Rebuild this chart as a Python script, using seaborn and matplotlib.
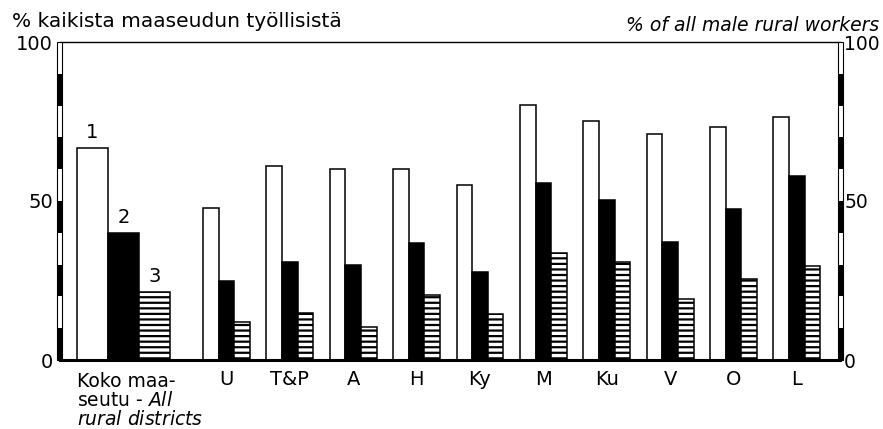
import pandas as pd
import matplotlib
matplotlib.use("Agg")
import matplotlib.pyplot as plt
from matplotlib.patches import Rectangle
import matplotlib.transforms as mtransforms
import seaborn as sns

# data (% of all male rural workers)
districts = ["U", "T&P", "A", "H", "Ky", "M", "Ku", "V", "O", "L"]
series = ["1", "2", "3"]
s1 = [47.9, 61.0, 60.2, 60.0, 54.9, 80.2, 75.1, 71.2, 73.3, 76.4]
s2 = [25.0, 30.8, 30.0, 36.8, 27.8, 55.7, 50.4, 37.0, 47.5, 57.9]
s3 = [11.8, 14.8, 10.5, 20.4, 14.6, 33.6, 30.8, 19.3, 25.5, 29.6]
all_rural = [66.7, 40.0, 21.5]

# x positions: districts are evenly spaced, the whole-country group sits further left
district_pos = list(range(1, len(districts) + 1))
all_pos = -0.625

rows = []
for name, pos, a, b, c in zip(districts, district_pos, s1, s2, s3):
    for s, v in zip(series, [a, b, c]):
        rows.append({"region": name, "pos": pos, "series": s, "value": v})
df = pd.DataFrame(rows)
df_all = pd.DataFrame({"region": "all", "pos": all_pos, "series": series, "value": all_rural})

sns.set_style("white")
plt.rcParams["font.family"] = ["DejaVu Sans"]
plt.rcParams["mathtext.fontset"] = "dejavusans"
plt.rcParams["hatch.linewidth"] = 1.6
plt.rcParams["text.color"] = "black"
plt.rcParams["xtick.color"] = "black"
plt.rcParams["ytick.color"] = "black"

palette = {"1": "white", "2": "black", "3": "white"}

fig = plt.figure(figsize=(8.83, 4.29), dpi=100)
ax = fig.add_axes([60 / 883, 1 - 360 / 429, 780 / 883, 318 / 429])

sns.barplot(data=df, x="pos", y="value", hue="series", hue_order=series, palette=palette,
            native_scale=True, orient="x", width=0.74, errorbar=None, saturation=1,
            edgecolor="black", linewidth=1.1, legend=False, ax=ax)
sns.barplot(data=df_all, x="pos", y="value", hue="series", hue_order=series, palette=palette,
            native_scale=True, orient="x", width=1.47, errorbar=None, saturation=1,
            edgecolor="black", linewidth=1.1, legend=False, ax=ax)

# third series is hatched with horizontal lines
for i, cont in enumerate(ax.containers):
    if i % 3 == 2:
        for p in cont:
            p.set_hatch("---")

# series numbers above the whole-country bars
for cont, s in zip(ax.containers[3:], series):
    p = cont[0]
    ax.annotate(s, (p.get_x() + p.get_width() / 2, p.get_height()), xytext=(0, 4),
                textcoords="offset points", ha="center", va="bottom", fontsize=14)

ax.set_xlim(-1.626, 10.68)
ax.set_ylim(0, 100)
ax.set_xlabel("")
ax.set_ylabel("")

ax.set_xticks(district_pos)
ax.set_xticklabels(districts, fontsize=14)
ax.set_yticks([0, 50, 100])
ax.set_yticklabels(["0", "50", "100"], fontsize=14)
ax.tick_params(axis="both", length=0)
ax.tick_params(axis="x", pad=7)
ax.tick_params(axis="y", pad=5)

ax2 = ax.twinx()
ax2.set_ylim(0, 100)
ax2.set_yticks([0, 50, 100])
ax2.set_yticklabels(["0", "50", "100"], fontsize=13.5)
ax2.tick_params(axis="y", length=0, pad=3)
for sp in ax2.spines.values():
    sp.set_visible(False)

for side in ["left", "right"]:
    ax.spines[side].set_visible(False)
ax.spines["top"].set_linewidth(1.0)
ax.spines["top"].set_color("black")
ax.spines["bottom"].set_linewidth(2.2)
ax.spines["bottom"].set_color("black")

# scale-bar style side axes: alternating 10-unit black / white blocks
step = 10
trans = mtransforms.blended_transform_factory(ax.transAxes, ax.transData)
bw = 5 / 780
for x0 in [-bw / 2, 1 - bw / 2]:
    for k in range(0, 100, step):
        fc = "black" if (k // step) % 2 == 0 else "white"
        ax.add_patch(Rectangle((x0, k), bw, step, transform=trans, facecolor=fc,
                               edgecolor="none", clip_on=False, zorder=5))
    ax.add_patch(Rectangle((x0, 0), bw, 100, transform=trans, facecolor="none",
                           edgecolor="black", linewidth=0.8, clip_on=False, zorder=6))

# label for the whole-country group, Finnish with italic English
xt = mtransforms.blended_transform_factory(ax.transData, fig.transFigure)
left_edge = ax.containers[3][0].get_x()
ax.text(left_edge, 1 - 372 / 429,
        "Koko maa-\nseutu - $\\it{All}$\n$\\it{rural\\ districts}$",
        transform=xt, fontsize=13.5, ha="left", va="top", linespacing=1.0)

fig.text(12 / 883, 1 - 27 / 429, "% kaikista maaseudun työllisistä", fontsize=14.5, ha="left", va="baseline")
fig.text(879 / 883, 1 - 31 / 429, "% of all male rural workers", fontsize=13.5, style="italic",
         ha="right", va="baseline")

fig.savefig("out.png", dpi=100)
